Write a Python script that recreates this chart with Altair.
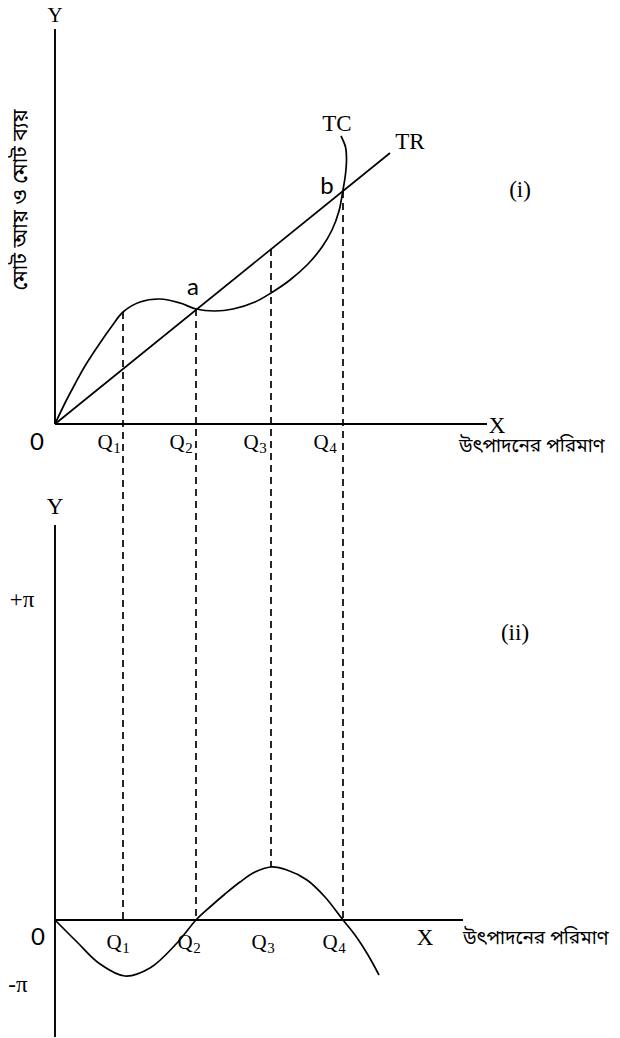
import altair as alt
import pandas as pd

# ---- data (diagram units: x = quantity, y = revenue / cost; panel (ii) = profit) ----
PANEL2_BASE = -49.6          # where the profit zero-line sits on the shared vertical scale

q_names = ["1", "2", "3", "4"]
q_vals = [6.8, 14.1, 21.6, 28.8]

tr_x = [0.0, 33.5]
tr_y = [0.0, 27.1]

tc_x = [0.0, 1.0, 2.0, 3.0, 4.5, 5.7, 6.8, 8.5, 10.5, 12.5, 14.1, 16.0, 17.8, 20.0,
        21.6, 23.5, 25.3, 26.7, 27.7, 28.4, 28.8, 29.05, 29.15, 29.05, 28.6]
tc_y = [0.0, 2.1, 4.0, 5.8, 8.1, 9.8, 11.2, 12.2, 12.5, 12.1, 11.5, 11.3, 11.5, 12.2,
        13.1, 14.4, 16.0, 17.7, 19.4, 21.3, 23.4, 25.0, 26.5, 27.7, 28.8]

pi_x = [0.0, 2.2, 4.5, 7.0, 9.5, 12.2, 14.1, 15.5, 17.0, 18.5, 20.0, 21.6, 23.2,
        25.2, 27.0, 28.8, 30.0, 31.3, 32.4]
pi_y = [0.0, -2.2, -4.4, -5.6, -4.8, -2.3, 0.0, 1.3, 2.6, 3.8, 4.8, 5.3, 5.0,
        4.0, 2.3, 0.0, -1.5, -3.5, -5.5]

dash_top = [11.2, 11.5, 17.5, 23.3]        # TC / TR value where each guide starts
dash_bottom_profit = [0.0, 0.0, 5.3, 0.0]  # profit value where each guide ends

y_title = "মোট আয় ও মোট ব্যয়"
x_title = "উৎপাদনের পরিমাণ"

XD = [-4.7, 55.7]
YD = [-61.4, 41.6]
W, H = 604, 1030

xs = alt.Scale(domain=XD, nice=False, zero=False)
ys = alt.Scale(domain=YD, nice=False, zero=False)

SERIF = "Liberation Serif"
SANS = "Lato"
BN = "Noto Sans Bengali, Lohit Bengali, FreeSans, Noto Sans, sans-serif"


def X(f="x"):
    return alt.X(f"{f}:Q", scale=xs, axis=None)


def Y(f="y"):
    return alt.Y(f"{f}:Q", scale=ys, axis=None)


# axes drawn as rules
axes_df = pd.DataFrame({
    "x": [0.0, 0.0, 0.0, 0.0],
    "x2": [0.0, 43.2, 0.0, 40.8],
    "y": [0.0, 0.0, -11.7 + PANEL2_BASE, PANEL2_BASE],
    "y2": [39.5, 0.0, 39.5 + PANEL2_BASE, PANEL2_BASE],
})
axes = alt.Chart(axes_df).mark_rule(color="black", strokeWidth=1.9).encode(
    x=X(), x2="x2:Q", y=Y(), y2="y2:Q")

# dashed guides
dash_df = pd.DataFrame({
    "x": q_vals,
    "y": dash_top,
    "y2": [p + PANEL2_BASE for p in dash_bottom_profit],
})
dashes = alt.Chart(dash_df).mark_rule(color="black", strokeWidth=1.7, strokeDash=[7, 5]).encode(
    x=X(), y=Y(), y2="y2:Q")

tr_df = pd.DataFrame({"x": tr_x, "y": tr_y})
tr = alt.Chart(tr_df).mark_line(color="black", strokeWidth=1.7).encode(x=X(), y=Y())

tc_df = pd.DataFrame({"x": tc_x, "y": tc_y, "o": list(range(len(tc_x)))})
tc = alt.Chart(tc_df).mark_line(color="black", strokeWidth=1.7, interpolate="catmull-rom").encode(
    x=X(), y=Y(), order="o:Q")

pi_df = pd.DataFrame({"x": pi_x, "y": [v + PANEL2_BASE for v in pi_y], "o": list(range(len(pi_x)))})
pi_line = alt.Chart(pi_df).mark_line(color="black", strokeWidth=1.7, interpolate="catmull-rom").encode(
    x=X(), y=Y(), order="o:Q")


# text labels
def texts(rows, font, size, **kw):
    df = pd.DataFrame(rows, columns=["x", "y", "t"])
    return alt.Chart(df).mark_text(font=font, fontSize=size, color="black", baseline="middle", **kw).encode(
        x=X(), y=Y(), text="t:N")


top_y_label = texts([(0.0, 40.8, "Y")], SERIF, 21)

serif_labels = texts([
    (44.2, -0.2, "X"),
    (28.2, 30.0, "TC"),
    (35.5, 28.2, "TR"),
    (46.5, 23.4, "(i)"),
    (0.0, 41.3 + PANEL2_BASE, "Y"),
    (37.0, -1.8 + PANEL2_BASE, "X"),
    (46.0, -20.9, "(ii)"),
    (-3.3, 32.0 + PANEL2_BASE, "+π"),
    (-3.7, -6.5 + PANEL2_BASE, "-π"),
], SERIF, 23)

sans_labels = texts([
    (-1.8, -1.9, "0"),
    (-1.7, -1.8 + PANEL2_BASE, "0"),
    (13.8, 13.6, "a"),
    (27.2, 23.7, "b"),
], SANS, 24)

# Q labels with subscripts
q_top_x = [5.3, 12.5, 19.9, 26.9]
q_bot_x = [6.2, 13.3, 20.7, 27.8]
q_rows = [(x, -1.9, "Q") for x in q_top_x] + [(x, -2.3 + PANEL2_BASE, "Q") for x in q_bot_x]
sub_rows = [(x, -1.9, n) for x, n in zip(q_top_x, q_names)] + \
           [(x, -2.3 + PANEL2_BASE, n) for x, n in zip(q_bot_x, q_names)]
q_labels = texts(q_rows, SERIF, 21, dx=-3)
q_subs = texts(sub_rows, SERIF, 15, dx=9, dy=5)

bn_left = texts([
    (40.4, -2.2, x_title),
    (40.8, -1.8 + PANEL2_BASE, x_title),
], BN, 19, align="left")

bn_y = texts([(-3.4, 22.4, y_title)], BN, 21, angle=270)

chart = alt.layer(
    axes, dashes, tr, tc, pi_line, top_y_label, serif_labels, sans_labels, q_labels, q_subs,
    bn_left, bn_y
).properties(
    width=W, height=H, padding=0, autosize=alt.AutoSizeParams(type="none")
).configure_view(stroke=None)

chart.save("out.html", embed_options={"renderer": "svg", "actions": False})
